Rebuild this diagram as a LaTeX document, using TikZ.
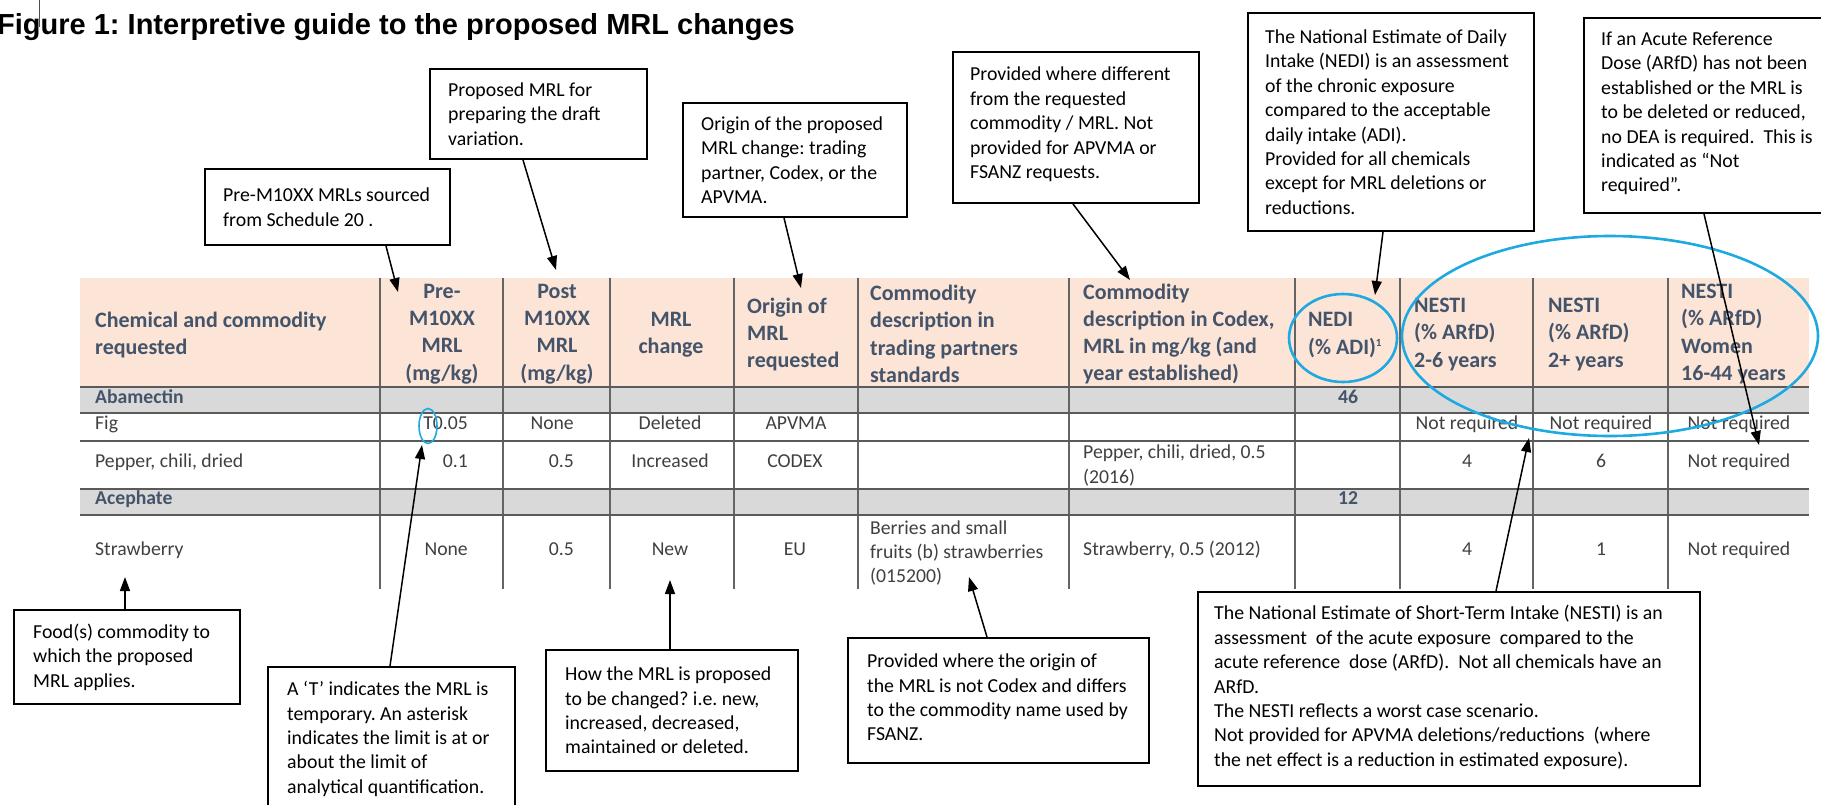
\documentclass[tikz,border=0pt]{standalone}
\usepackage{fontspec}
\setmainfont{Carlito}
\newfontfamily\titlefont{Liberation Sans}
\usetikzlibrary{arrows.meta}
\frenchspacing
\definecolor{hdrbg}{RGB}{252,228,214}
\definecolor{rowgrey}{RGB}{217,217,217}
\definecolor{hdrtxt}{RGB}{68,84,106}
\definecolor{celltxt}{RGB}{64,64,64}
\definecolor{ringblue}{RGB}{30,170,225}
\definecolor{hline}{RGB}{90,90,90}
\definecolor{vline}{RGB}{100,100,100}
\tikzset{
  hdr/.style={inner sep=0pt, align=left, text=hdrtxt, font=\bfseries\fontsize{22}{27.3}\selectfont},
  hdrc/.style={hdr, align=center},
  cell/.style={inner sep=0pt, text=celltxt, font=\fontsize{19.7}{24.4}\selectfont, text height=0.7em, text depth=0.22em},
  cellb/.style={cell, text=hdrtxt, font=\bfseries\fontsize{19.7}{24.4}\selectfont},
  mcell/.style={inner sep=0pt, align=left, text=celltxt, font=\fontsize{19.7}{24.4}\selectfont},
  callbox/.style={draw=black, line width=2pt, anchor=north west, inner sep=0pt},
  calltext/.style={inner sep=0pt, align=left, anchor=west, text=black, font=\fontsize{19.8}{24.4}\selectfont},
  arr/.style={-{Triangle[length=14pt,width=10pt]}, line width=1.5pt, black},
  ring/.style={draw=ringblue, line width=2.6pt},
  tline/.style={line width=2.6pt, hline},
  cline/.style={line width=1.5pt, vline}
}
\begin{document}
\begin{tikzpicture}[x=1pt,y=-1pt]
\useasboundingbox (0,0) rectangle (1821,804);
\fill[white] (0,0) rectangle (1821,804);

% title
\node[inner sep=0pt, anchor=base west, font=\titlefont\bfseries\fontsize{29}{34}\selectfont] (title) at (-3,34) {Figure 1: Interpretive guide to the proposed MRL changes};
\draw[line width=1pt, black!70] (39,0) -- (39,27);

% table backgrounds
\fill[hdrbg] (80,278) rectangle (1809,387);
\fill[rowgrey] (80,387) rectangle (1809,413);
\fill[rowgrey] (80,489) rectangle (1809,515);

% column lines
\foreach \cx in {380,503,610,734,858,1069,1295,1400,1533,1668}
  \draw[cline] (\cx,278) -- (\cx,589);
% row lines
\foreach \ry in {387,413,441,489,515}
  \draw[tline] (80,\ry) -- (1809,\ry);

% header
\node[hdr, anchor=west] (hChem) at (95,335) {Chemical and commodity\\requested};
\node[hdrc] (hPre) at (442,334) {Pre-\\M10XX\\MRL\\(mg/kg)};
\node[hdrc] (hPost) at (557,334) {Post\\M10XX\\MRL\\(mg/kg)};
\node[hdrc] (hChg) at (671,335) {MRL\\change};
\node[hdr, anchor=west] (hOrig) at (747,334.5) {Origin of\\MRL\\requested};
\node[hdr, anchor=west] (hTrade) at (870,334) {Commodity\\description in\\trading partners\\standards};
\node[hdr, anchor=west] (hCodex) at (1083,334) {Commodity\\description in Codex,\\MRL in mg/kg (and\\year established)};
\node[hdr, anchor=west] (hNedi) at (1308,335) {NEDI\\(\% ADI)\textsuperscript{\fontsize{11}{11}\selectfont 1}};
\node[hdr, anchor=west] (hN1) at (1414,334.5) {NESTI\\(\% ARfD)\\2-6 years};
\node[hdr, anchor=west] (hN2) at (1548,334.5) {NESTI\\(\% ARfD)\\2+ years};
\node[hdr, anchor=west] (hN3) at (1681,334) {NESTI\\(\% ARfD)\\Women\\16-44 years};

% Abamectin
\node[cellb, anchor=west] (rAba) at (95,401) {Abamectin};
\node[cellb] (rAbaN) at (1348,401) {46};
% Fig
\node[cell, anchor=west] (rFig) at (95,427) {Fig};
\node[cell, anchor=east] (fPre) at (468,427) {T0.05};
\node[cell, anchor=east] (fPost) at (574,427) {None};
\node[cell] (fChg) at (670,427) {Deleted};
\node[cell] (fOrig) at (796,427) {APVMA};
\node[cell] (fN1) at (1467,427) {Not required};
\node[cell] (fN2) at (1601,427) {Not required};
\node[cell] (fN3) at (1739,427) {Not required};
% Pepper
\node[cell, anchor=west] (rPep) at (95,465) {Pepper, chili, dried};
\node[cell, anchor=east] (pPre) at (468,465) {0.1};
\node[cell, anchor=east] (pPost) at (574,465) {0.5};
\node[cell] (pChg) at (670,465) {Increased};
\node[cell] (pOrig) at (795,465) {CODEX};
\node[mcell, anchor=west] (pCodex) at (1083,465.5) {Pepper, chili, dried, 0.5\\(2016)};
\node[cell] (pN1) at (1467,465) {4};
\node[cell] (pN2) at (1601,465) {6};
\node[cell] (pN3) at (1739,465) {Not required};
% Acephate
\node[cellb, anchor=west] (rAce) at (95,502) {Acephate};
\node[cellb] (rAceN) at (1348,502) {12};
% Strawberry
\node[cell, anchor=west] (rStr) at (95,553) {Strawberry};
\node[cell, anchor=east] (sPre) at (468,553) {None};
\node[cell, anchor=east] (sPost) at (574,553) {0.5};
\node[cell] (sChg) at (670,553) {New};
\node[cell] (sOrig) at (795,553) {EU};
\node[mcell, anchor=west] (sTrade) at (870,553) {Berries and small\\fruits (b) strawberries\\(015200)};
\node[cell, anchor=west] (sCodex) at (1083,553) {Strawberry, 0.5 (2012)};
\node[cell] (sN1) at (1467,553) {4};
\node[cell] (sN2) at (1601,553) {1};
\node[cell] (sN3) at (1739,553) {Not required};

% blue rings
\draw[ring, line width=1.6pt] (428,426) ellipse [x radius=9, y radius=17.5];
\draw[ring] (1343,338) ellipse [x radius=54, y radius=44];
\draw[ring] (1610,336) ellipse [x radius=208, y radius=100];

% callout boxes (top)
\node[callbox, minimum width=245pt, minimum height=76pt] (pre) at (204,168) {};
\node[calltext] (preT) at ([xshift=19pt]pre.west) {Pre-M10XX MRLs sourced\\from Schedule 20 .};

\node[callbox, minimum width=217pt, minimum height=90pt] (prop) at (429,68) {};
\node[calltext] (propT) at ([xshift=19pt]prop.west) {Proposed MRL for\\preparing the draft\\variation.};

\node[callbox, minimum width=224pt, minimum height=114pt] (orig) at (682,102) {};
\node[calltext] (origT) at ([xshift=19pt]orig.west) {Origin of the proposed\\MRL change: trading\\partner, Codex, or the\\APVMA.};

\node[callbox, minimum width=246pt, minimum height=151pt] (prov) at (952,51) {};
\node[calltext] (provT) at ([xshift=18pt,yshift=3pt]prov.west) {Provided where different\\from the requested\\commodity / MRL. Not\\provided for APVMA or\\FSANZ requests.};

\node[callbox, minimum width=286pt, minimum height=218pt] (nedi) at (1247,12) {};
\node[calltext] (nediT) at ([xshift=18pt]nedi.west) {The National Estimate of Daily\\Intake (NEDI) is an assessment\\of the chronic exposure\\compared to the acceptable\\daily intake (ADI).\\Provided for all chemicals\\except for MRL deletions or\\reductions.};

\node[callbox, minimum width=260pt, minimum height=195pt] (arfd) at (1583,17) {};
\node[calltext] (arfdT) at ([xshift=18pt,yshift=2pt]arfd.west) {If an Acute Reference\\Dose (ARfD) has not been\\established or the MRL is\\to be deleted or reduced,\\no DEA is required.\ \ This is\\indicated as “Not\\required”.};

% callout boxes (bottom)
\node[callbox, minimum width=226pt, minimum height=94pt] (food) at (13,609) {};
\node[calltext] (foodT) at ([xshift=20pt]food.west) {Food(s) commodity to\\which the proposed\\MRL applies.};

\node[callbox, minimum width=247pt, minimum height=144pt] (tbox) at (267,666) {};
\node[calltext] (tboxT) at ([xshift=20pt]tbox.west) {A ‘T’ indicates the MRL is\\temporary. An asterisk\\indicates the limit is at or\\about the limit of\\analytical quantification.};

\node[callbox, minimum width=252pt, minimum height=121pt] (how) at (545,649) {};
\node[calltext] (howT) at ([xshift=20pt]how.west) {How the MRL is proposed\\to be changed? i.e. new,\\increased, decreased,\\maintained or deleted.};

\node[callbox, minimum width=301pt, minimum height=125pt] (prov2) at (847,637) {};
\node[calltext] (prov2T) at ([xshift=20pt,yshift=3pt]prov2.west) {Provided where the origin of\\the MRL is not Codex and differs\\to the commodity name used by\\FSANZ.};

\node[callbox, minimum width=502pt, minimum height=194pt] (nesti) at (1197,591) {};
\node[calltext] (nestiT) at ([xshift=17pt,yshift=1.5pt]nesti.west) {The National Estimate of Short-Term Intake (NESTI) is an\\assessment\ \ of the acute exposure\ \ compared to the\\acute reference\ \ dose (ARfD).\ \ Not all chemicals have an\\ARfD.\\The NESTI reflects a worst case scenario.\\Not provided for APVMA deletions/reductions\ \ (where\\the net effect is a reduction in estimated exposure).};

% arrow tips
\coordinate (tPre) at (398,292);
\coordinate (tProp) at (556,270);
\coordinate (tOrig) at (801,288);
\coordinate (tProv) at (1130,280);
\coordinate (tNedi) at (1375,295);
\coordinate (tArfd) at (1759,445);
\coordinate (tFood) at (125,577);
\coordinate (tT) at (422,445);
\coordinate (tHow) at (670,580);
\coordinate (tProv2) at (969,577);
\coordinate (tNesti) at (1529,438);

% arrows
\draw[arr] ([xshift=182pt]pre.south west) -- (tPre);
\draw[arr] ([xshift=94pt]prop.south west) -- (tProp);
\draw[arr] ([xshift=102pt]orig.south west) -- (tOrig);
\draw[arr] ([xshift=121pt]prov.south west) -- (tProv);
\draw[arr] ([xshift=136pt]nedi.south west) -- (tNedi);
\draw[arr] ([xshift=121pt]arfd.south west) -- (tArfd);
\draw[arr] ([xshift=112pt]food.north west) -- (tFood);
\draw[arr] ([xshift=123pt]tbox.north west) -- (tT);
\draw[arr] ([xshift=125pt]how.north west) -- (tHow);
\draw[arr] ([xshift=140pt]prov2.north west) -- (tProv2);
\draw[arr] ([xshift=299pt]nesti.north west) -- (tNesti);
\end{tikzpicture}
\end{document}
